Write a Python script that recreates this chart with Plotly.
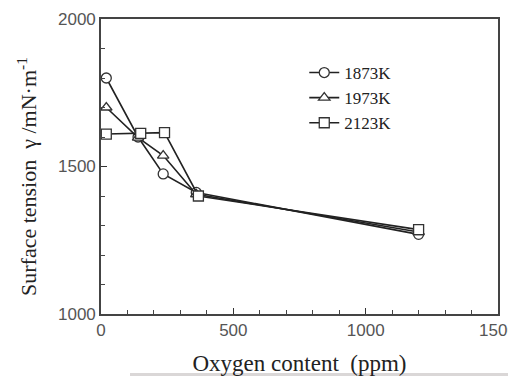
import plotly.graph_objects as go

oxygen_1873 = [20, 140, 235, 360, 1200]
gamma_1873 = [1800, 1600, 1475, 1412, 1270]
oxygen_1973 = [20, 140, 235, 360, 1200]
gamma_1973 = [1700, 1598, 1537, 1406, 1278]
oxygen_2123 = [20, 150, 240, 368, 1200]
gamma_2123 = [1610, 1612, 1615, 1400, 1286]
series_names = ["1873K", "1973K", "2123K"]
symbols = ["circle", "triangle-up", "square"]

fig = go.Figure()
for xs, ys, name, sym in zip([oxygen_1873, oxygen_1973, oxygen_2123],
                             [gamma_1873, gamma_1973, gamma_2123],
                             series_names, symbols):
    fig.add_trace(go.Scatter(
        x=xs, y=ys, name=name, mode="lines+markers",
        line=dict(color="#222", width=1.6),
        marker=dict(symbol=sym, size=10, color="white", line=dict(width=1.3, color="#333")),
    ))

tickfont = dict(family="Liberation Sans, Arial", size=17, color="#555")
titlefont = dict(family="Liberation Serif, Times New Roman", size=22, color="#222")

axis_common = dict(
    ticks="inside", ticklen=6, tickwidth=1.4, tickcolor="#333",
    showline=True, linecolor="#444", linewidth=1.6, mirror=True,
    showgrid=False, zeroline=False, tickfont=tickfont,
    automargin=False, ticklabeloverflow="allow",
)
fig.update_xaxes(range=[0, 1500], tick0=0, dtick=500, **axis_common,
                 minor=dict(ticks="inside", ticklen=4, tickmode="linear", tick0=0, dtick=100,
                            tickwidth=1.3, tickcolor="#444"),
                 title=dict(text="Oxygen content  (ppm)",
                            font=dict(family="Liberation Serif, Times New Roman", size=23, color="#222"),
                            standoff=16))
fig.update_yaxes(range=[1000, 2000], tick0=1000, dtick=500, **axis_common,
                 minor=dict(ticks="inside", ticklen=4, tickmode="linear", tick0=1000, dtick=100,
                            tickwidth=1.3, tickcolor="#444"))

fig.add_annotation(text="Surface tension  γ /mN·m<sup>-1</sup>", textangle=-90,
                   xref="paper", yref="paper", x=(27 - 101) / 397, y=(314 - 177) / 295,
                   xanchor="center", yanchor="middle", showarrow=False, font=titlefont)

fig.add_shape(type="rect", xref="paper", yref="paper",
              x0=(130 - 101) / 397, x1=1.1, y0=(314 - 373) / 295, y1=(314 - 380) / 295,
              fillcolor="#dad7d7", line=dict(width=0), layer="below")

fig.update_layout(
    width=508, height=368,
    margin=dict(l=93, r=18, t=11, b=62, autoexpand=False),
    paper_bgcolor="white", plot_bgcolor="white",
    showlegend=True,
    legend=dict(x=0.512, y=0.878, xanchor="left", yanchor="top",
                font=dict(family="Liberation Serif, Times New Roman", size=17, color="#222"),
                bgcolor="rgba(0,0,0,0)", itemwidth=30, tracegroupgap=0),
)
fig.write_html("out.html")
